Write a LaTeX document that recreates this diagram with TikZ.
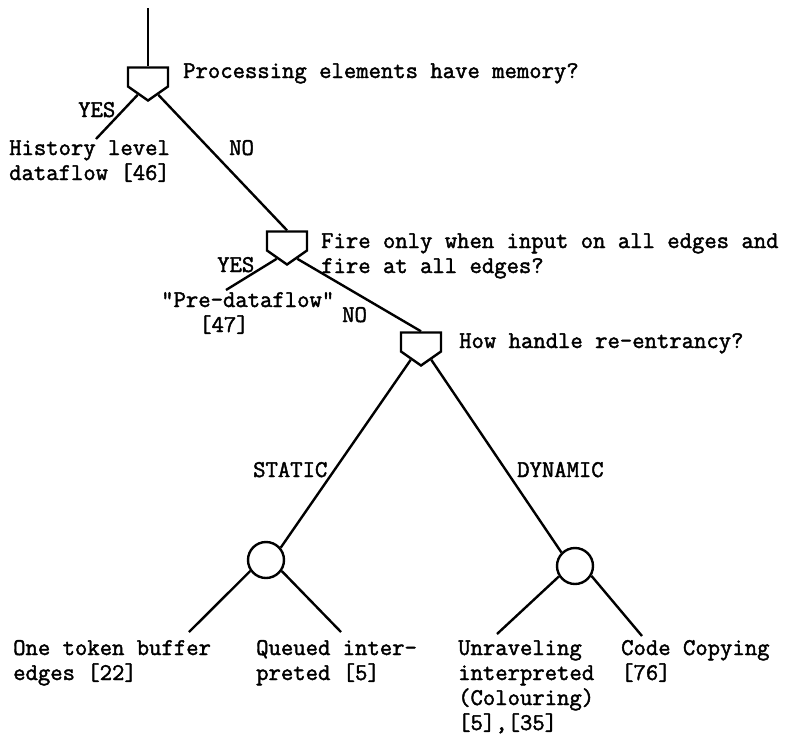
\documentclass[tikz,border=0pt]{standalone}
\usepackage{fontspec}
\newfontfamily\tw{Latin Modern Mono}[FakeBold=1.8]
\usetikzlibrary{shapes.symbols}
\begin{document}
\begin{tikzpicture}[x=1pt,y=-1pt, line width=2.4pt,
  dec/.style={draw, signal, signal to=south, signal from=nowhere, signal pointer angle=110,
    minimum width=40pt, minimum height=19pt, inner sep=0pt, line join=miter},
  lbl/.style={font=\fontsize{24}{25}\selectfont\tw, inner sep=0pt, anchor=base west, align=left},
  leaf/.style={draw, circle, minimum size=36pt, inner sep=0pt}]
\useasboundingbox (0,0) rectangle (793,740);
% decision shapes and leaves
\coordinate (top) at (148,8);
\node[dec] (s1) at (148,77) {};
\node[dec] (s2) at (287,241) {};
\node[dec] (s3) at (421,342) {};
\node[leaf] (c1) at (266,560) {};
\node[leaf] (c2) at (575,566) {};
\coordinate (y1) at (96,139);
\coordinate (y2) at (226,290);
\coordinate (e1) at (189,632);
\coordinate (e2) at (341,632);
\coordinate (e3) at (497,634);
\coordinate (e4) at (642,636);
% texts (multi-line nodes: base = baseline of the last line)
\node[lbl] (q1) at (182,78) {Processing elements have memory?};
\node[lbl] (yes1) at (77,117) {YES};
\node[lbl] (hist) at (8,180) {History level\\dataflow [46]};
\node[lbl] (no1) at (228,155) {NO};
\node[lbl] (q2) at (320,273) {Fire only when input on all edges and\\fire at all edges?};
\node[lbl] (yes2) at (216,272) {YES};
\node[lbl] (pre) at (160,332) {"Pre-dataflow"\\\hspace*{38pt}[47]};
\node[lbl] (no2) at (341,322) {NO};
\node[lbl] (q3) at (458,348) {How handle re-entrancy?};
\node[lbl] (st) at (252,477) {STATIC};
\node[lbl] (dy) at (516,477) {DYNAMIC};
\node[lbl] (l1) at (12,680) {One token buffer\\edges [22]};
\node[lbl] (l2) at (255,680) {Queued inter-\\preted [5]};
\node[lbl] (l3) at (457,730) {Unraveling\\interpreted\\(Colouring)\\{}[5],[35]};
\node[lbl] (l4) at (620,680) {Code Copying\\{}[76]};
% connectors
\draw (top) -- (s1.north);
\draw (s1.-120) -- (y1);
\draw (s1.-60) -- (s2.north);
\draw (s2.-120) -- (y2);
\draw (s2.-60) -- (s3.north);
\draw (s3.-120) -- (c1.40);
\draw (s3.-60) -- (c2.135);
\draw (c1.-145) -- (e1);
\draw (c1.-35) -- (e2);
\draw (c2.-147) -- (e3);
\draw (c2.-31) -- (e4);
\end{tikzpicture}
\end{document}
